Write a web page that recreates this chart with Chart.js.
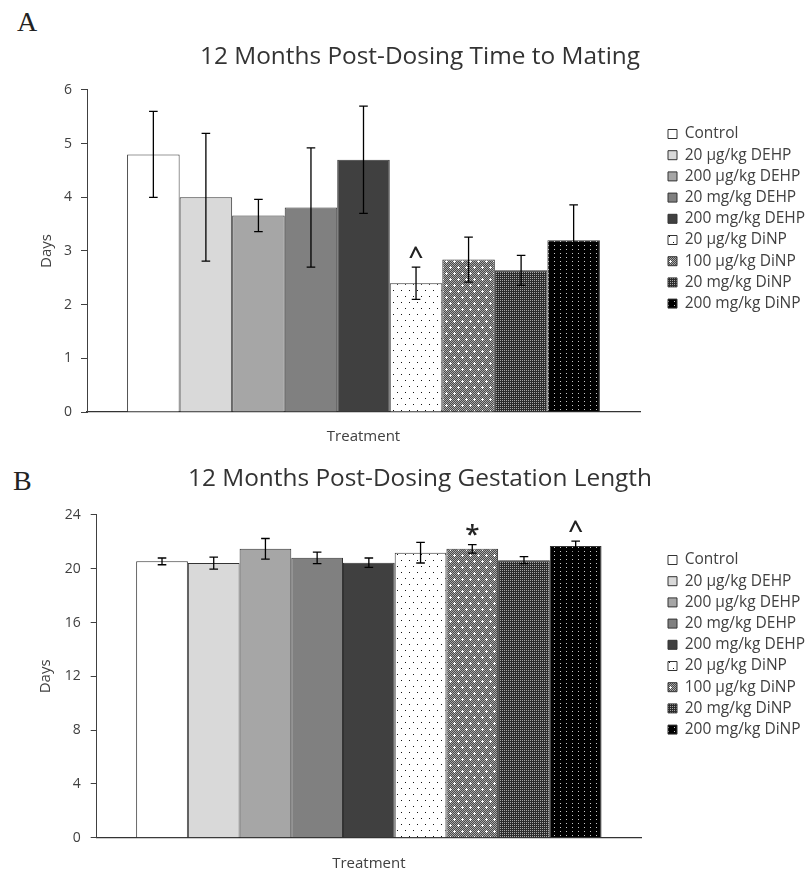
<!DOCTYPE html>
<html lang="en">
<head>
<meta charset="UTF-8" />
<title>12 Months Post-Dosing</title>
<style>
  html, body { margin: 0; padding: 0; background: #fff; overflow: hidden; }
  .panel-letter {
    position: absolute;
    font-family: "Liberation Serif", "DejaVu Serif", serif;
    font-size: 28px;
    line-height: 1;
    color: #222;
  }
  #letterA { left: 17px; top: 8px; }
  #letterB { left: 13px; top: 467px; }
  .wrap { position: absolute; left: 0; width: 808px; }
  #wrapA { top: 0; height: 450px; }
  #wrapB { top: 450px; height: 419px; }
</style>
</head>
<body>
<div id="letterA" class="panel-letter">A</div>
<div id="letterB" class="panel-letter">B</div>
<div class="wrap" id="wrapA"><canvas id="matingChart"></canvas></div>
<div class="wrap" id="wrapB"><canvas id="gestationChart"></canvas></div>

<script src="https://cdn.jsdelivr.net/npm/chart.js@4.4.0/dist/chart.umd.min.js"></script>
<script>
  // Data
  const categories = ["Treatment"];
  const groups = [
    "Control",
    "20 µg/kg DEHP",
    "200 µg/kg DEHP",
    "20 mg/kg DEHP",
    "200 mg/kg DEHP",
    "20 µg/kg DiNP",
    "100 µg/kg DiNP",
    "20 mg/kg DiNP",
    "200 mg/kg DiNP",
  ];

  const matingMean = [4.8, 4.0, 3.66, 3.81, 4.7, 2.4, 2.84, 2.64, 3.2];
  const matingErr = [0.8, 1.19, 0.3, 1.11, 1.0, 0.3, 0.42, 0.28, 0.66];
  const matingMarks = ["", "", "", "", "", "^", "", "", ""];
  const matingTicks = [0, 1, 2, 3, 4, 5, 6];

  const gestMean = [20.55, 20.42, 21.48, 20.81, 20.45, 21.2, 21.48, 20.64, 21.7];
  const gestErr = [0.25, 0.45, 0.77, 0.43, 0.35, 0.77, 0.32, 0.26, 0.35];
  const gestMarks = ["", "", "", "", "", "", "*", "", "^"];
  const gestTicks = [0, 4, 8, 12, 16, 20, 24];

  Chart.defaults.font.family = '"Open Sans", sans-serif';
  Chart.defaults.color = "#404040";

  // small tiled fills for the DiNP bars
  function makePattern(w, h, draw) {
    const c = document.createElement("canvas");
    c.width = w;
    c.height = h;
    const g = c.getContext("2d");
    draw(g);
    return g.createPattern(c, "repeat");
  }
  function dot(g, x, y, col) {
    g.fillStyle = col;
    g.fillRect(x, y, 1, 1);
  }

  const sparseDots = makePattern(8, 12, (g) => {
    g.fillStyle = "#fff";
    g.fillRect(0, 0, 8, 12);
    dot(g, 1, 2, "#111");
    dot(g, 5, 8, "#111");
  });
  const checkCross = makePattern(8, 12, (g) => {
    for (let x = 0; x < 8; x++)
      for (let y = 0; y < 12; y++)
        dot(g, x, y, (x + y) % 2 ? "#4a4a4a" : "#a8a8a8");
    [[2, 3], [6, 9]].forEach(([cx, cy]) => {
      dot(g, cx, cy, "#fff");
      dot(g, cx - 1, cy, "#fff");
      dot(g, cx + 1, cy, "#fff");
      dot(g, cx, cy - 1, "#fff");
      dot(g, cx, cy + 1, "#fff");
    });
  });
  const fineMesh = makePattern(4, 4, (g) => {
    g.fillStyle = "#2c2c2c";
    g.fillRect(0, 0, 4, 4);
    dot(g, 0, 0, "#a8a8a8");
    dot(g, 2, 0, "#a8a8a8");
    dot(g, 0, 2, "#a8a8a8");
    dot(g, 2, 2, "#a8a8a8");
  });
  const blackDots = makePattern(6, 4, (g) => {
    g.fillStyle = "#000";
    g.fillRect(0, 0, 6, 4);
    dot(g, 2, 1, "#c8c8c8");
  });

  const fills = [
    "#ffffff", "#d9d9d9", "#a6a6a6", "#808080", "#404040",
    sparseDots, checkCross, fineMesh, blackDots,
  ];

  // error bars and significance marks, placed with the y scale
  const errorBars = {
    id: "errorBars",
    afterDatasetsDraw(chart, args, opts) {
      const { ctx } = chart;
      const yScale = chart.scales.y;
      ctx.save();
      chart.data.datasets.forEach((ds, i) => {
        const meta = chart.getDatasetMeta(i);
        meta.data.forEach((bar, j) => {
          const v = ds.data[j];
          const e = ds.errors[j];
          const yTop = yScale.getPixelForValue(v + e);
          const yBot = yScale.getPixelForValue(v - e);
          const x = bar.x;
          ctx.strokeStyle = opts.color;
          ctx.lineWidth = opts.width;
          ctx.beginPath();
          ctx.moveTo(x, yTop);
          ctx.lineTo(x, yBot);
          ctx.moveTo(x - opts.cap, yTop);
          ctx.lineTo(x + opts.cap, yTop);
          ctx.moveTo(x - opts.cap, yBot);
          ctx.lineTo(x + opts.cap, yBot);
          ctx.stroke();
          if (ds.mark) {
            ctx.fillStyle = opts.markColor;
            ctx.font = opts.markFont;
            ctx.textAlign = "center";
            ctx.textBaseline = "alphabetic";
            ctx.fillText(ds.mark, x, yTop - opts.markGap);
          }
        });
      });
      ctx.restore();
    },
  };

  // put the legend block where the figure has it
  const legendAt = {
    id: "legendAt",
    afterLayout(chart, args, opts) {
      const lg = chart.legend;
      const lab = lg.options.labels;
      const itemH = Math.max(lab.font.size, lab.boxHeight);
      lg.left = opts.x - lab.padding;
      lg.top = opts.y - itemH / 2 - lab.padding;
      lg.right = chart.width;
      lg.bottom = chart.height;
    },
  };

  function buildChart(id, means, errs, marks, ticks, title, geo) {
    const datasets = groups.map((g, i) => ({
      label: g,
      data: [means[i]],
      errors: [errs[i]],
      mark: marks[i],
      backgroundColor: fills[i],
      borderColor: "#333",
      borderWidth: 1,
      barPercentage: 1,
      categoryPercentage: 0.855,
    }));

    return new Chart(document.getElementById(id), {
      type: "bar",
      data: { labels: categories, datasets },
      plugins: [errorBars, legendAt],
      options: {
        responsive: true,
        maintainAspectRatio: false,
        animation: false,
        events: [],
        layout: { padding: { left: 32, right: 0, top: 0, bottom: 0 } },
        plugins: {
          title: {
            display: true,
            text: title,
            color: "#333",
            font: { size: 24.4, weight: "normal" },
            padding: geo.titlePad,
          },
          legend: {
            position: "chartArea",
            align: "start",
            labels: {
              boxWidth: 9,
              boxHeight: 9,
              padding: 5.7,
              color: "#404040",
              font: { size: 15.5 },
            },
          },
          tooltip: { enabled: false },
          legendAt: { x: 668, y: geo.legendY },
          errorBars: {
            color: "#000",
            width: 1.3,
            cap: 4.3,
            markColor: "#222",
            markFont: '600 26px "Open Sans", sans-serif',
            markGap: 2,
          },
        },
        scales: {
          x: {
            grid: { display: false },
            border: { display: true, color: "#333", width: 1.2 },
            ticks: { padding: geo.xPad, font: { size: 15 }, color: "#404040" },
            afterFit: (s) => { s.height = geo.xHeight; },
          },
          y: {
            min: ticks[0],
            max: ticks[ticks.length - 1],
            afterBuildTicks: (s) => { s.ticks = ticks.map((v) => ({ value: v })); },
            grid: {
              display: true,
              drawOnChartArea: false,
              drawTicks: true,
              tickLength: 6,
              color: "#404040",
            },
            border: { display: true, color: "#404040", width: 1 },
            ticks: { padding: geo.yPad, font: { size: 14 }, color: "#404040" },
            title: {
              display: true,
              text: "Days",
              font: { size: 15 },
              color: "#404040",
              padding: { top: geo.yTitlePad, bottom: 0 },
            },
            afterFit: (s) => { s.width = geo.yWidth; },
          },
          // empty right-hand axis that reserves the legend's column
          spacer: {
            type: "linear",
            position: "right",
            display: true,
            grid: { display: false },
            border: { display: false },
            ticks: { display: false },
            afterFit: (s) => { s.width = geo.rightWidth; },
          },
        },
      },
    });
  }

  const matingChart = buildChart(
    "matingChart", matingMean, matingErr, matingMarks, matingTicks,
    "12 Months Post-Dosing Time to Mating",
    {
      titlePad: { top: 42.4, bottom: 18.3 },
      legendY: 134,
      xPad: 8,
      xHeight: 38,
      yPad: 9,
      yTitlePad: 5.7,
      yWidth: 55,
      rightWidth: 168,
    }
  );

  const gestationChart = buildChart(
    "gestationChart", gestMean, gestErr, gestMarks, gestTicks,
    "12 Months Post-Dosing Gestation Length",
    {
      titlePad: { top: 14.4, bottom: 21.3 },
      legendY: 110,
      xPad: 9,
      xHeight: 31.3,
      yPad: 10,
      yTitlePad: 5,
      yWidth: 64.7,
      rightWidth: 167,
    }
  );
</script>
</body>
</html>
